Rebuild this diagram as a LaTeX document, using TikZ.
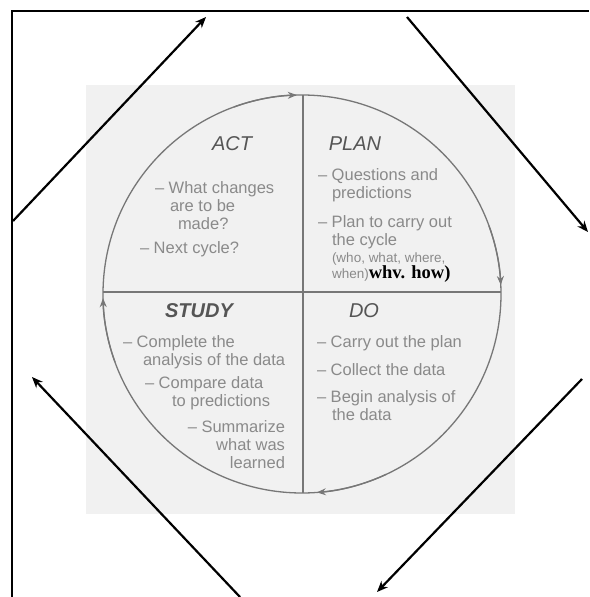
\documentclass[tikz,border=0pt]{standalone}
\usepackage{fontspec}
\setmainfont{Liberation Sans}
\newfontfamily\serifbold{Liberation Serif}
\usetikzlibrary{arrows.meta}
\definecolor{txtgray}{HTML}{8A8A8A}
\definecolor{titlegray}{HTML}{555555}
\definecolor{ringgray}{HTML}{777777}
\definecolor{dotbg}{HTML}{F1F1F1}
\begin{document}
\begin{tikzpicture}[x=1pt,y=-1pt,
  body/.style={text=txtgray, inner sep=0pt, outer sep=0pt, align=left, anchor=base west, font=\fontsize{16.5}{18}\selectfont},
  bodyr/.style={body, align=right, anchor=base east},
  ttl/.style={text=titlegray, inner sep=0pt, outer sep=0pt, anchor=base, font=\fontsize{20}{22}\selectfont\itshape},
  ring/.style={draw=ringgray, line width=1.3pt},
  ringtip/.style={draw=ringgray, line width=1.3pt, -{Stealth[length=9pt,width=7pt]}},
  bigarrow/.style={line width=2.2pt, -{Stealth[length=11pt,width=9pt]}},
  frameline/.style={line width=2pt}
]
\useasboundingbox (0,0) rectangle (589,597);
% dotted background
\fill[dotbg] (86,85) rectangle (515,514);
% frame
\coordinate (fb) at (12,597);
\coordinate (fc) at (12,11);
\coordinate (fr) at (589,11);
\draw[frameline] (fb) -- (fc) -- (fr);
% circle
\coordinate (c) at (302,294);
\draw[ring] (c) circle[radius=199];
\coordinate (vt) at (303,95);
\coordinate (vb) at (303,493);
\coordinate (hl) at (103,292);
\coordinate (hr) at (501,292);
\draw[ring] (vt) -- (vb);
\draw[ring] (hl) -- (hr);
% circle arrowheads
\draw[ringtip] (c) ++(250:199) arc[start angle=250, end angle=268.5, radius=199];
\draw[ringtip] (c) ++(340:199) arc[start angle=340, end angle=357.4, radius=199];
\draw[ringtip] (c) ++(65:199) arc[start angle=65, end angle=85.7, radius=199];
\draw[ringtip] (c) ++(160:199) arc[start angle=160, end angle=178.8, radius=199];
% outer arrows
\coordinate (a1s) at (13,221);
\coordinate (a1e) at (206,17);
\coordinate (a2s) at (407,17);
\coordinate (a2e) at (588,232);
\coordinate (a3s) at (582,379);
\coordinate (a3e) at (377,592);
\coordinate (a4s) at (240,597);
\coordinate (a4e) at (32,377);
\draw[bigarrow] (a1s) -- (a1e);
\draw[bigarrow] (a2s) -- (a2e);
\draw[bigarrow] (a3s) -- (a3e);
\draw[bigarrow] (a4s) -- (a4e);
% titles
\node[ttl] (act) at (232,150) {ACT};
\node[ttl] (plan) at (355,150) {PLAN};
\node[ttl, font=\fontsize{20}{22}\selectfont\itshape\bfseries] (study) at (199,317) {STUDY};
\node[ttl] (do) at (364,317) {DO};
% ACT (base anchor = baseline of last line)
\node[body] (act1) at (155,229) {– What changes\\\hspace*{15pt}are to be\\\hspace*{23pt}made?};
\node[body] (act2) at (140,253) {– Next cycle?};
% PLAN
\node[body] (plan1) at (318,198) {– Questions and\\\hspace*{14pt}predictions};
\node[body] (plan2) at (318,245) {– Plan to carry out\\\hspace*{14pt}the cycle};
\node[body, font=\fontsize{13.5}{15}\selectfont] (plan3) at (332,262) {(who, what, where,};
\node[body, font=\fontsize{13.5}{15}\selectfont] (plan4) at (332,278) {when){\color{black}\serifbold\bfseries\fontsize{18.5}{20}\selectfont whv. how)}};
% STUDY
\node[body] (st1) at (123,365) {– Complete the\\\hspace*{20pt}analysis of the data};
\node[body] (st2) at (145,406) {– Compare data\\\hspace*{27pt}to predictions};
\node[bodyr] (st3) at (285,468) {– Summarize\\what was\\learned};
% DO
\node[body] (do1) at (317,347) {– Carry out the plan};
\node[body] (do2) at (317,375) {– Collect the data};
\node[body] (do3) at (317,420) {– Begin analysis of\\\hspace*{15pt}the data};
\end{tikzpicture}
\end{document}
